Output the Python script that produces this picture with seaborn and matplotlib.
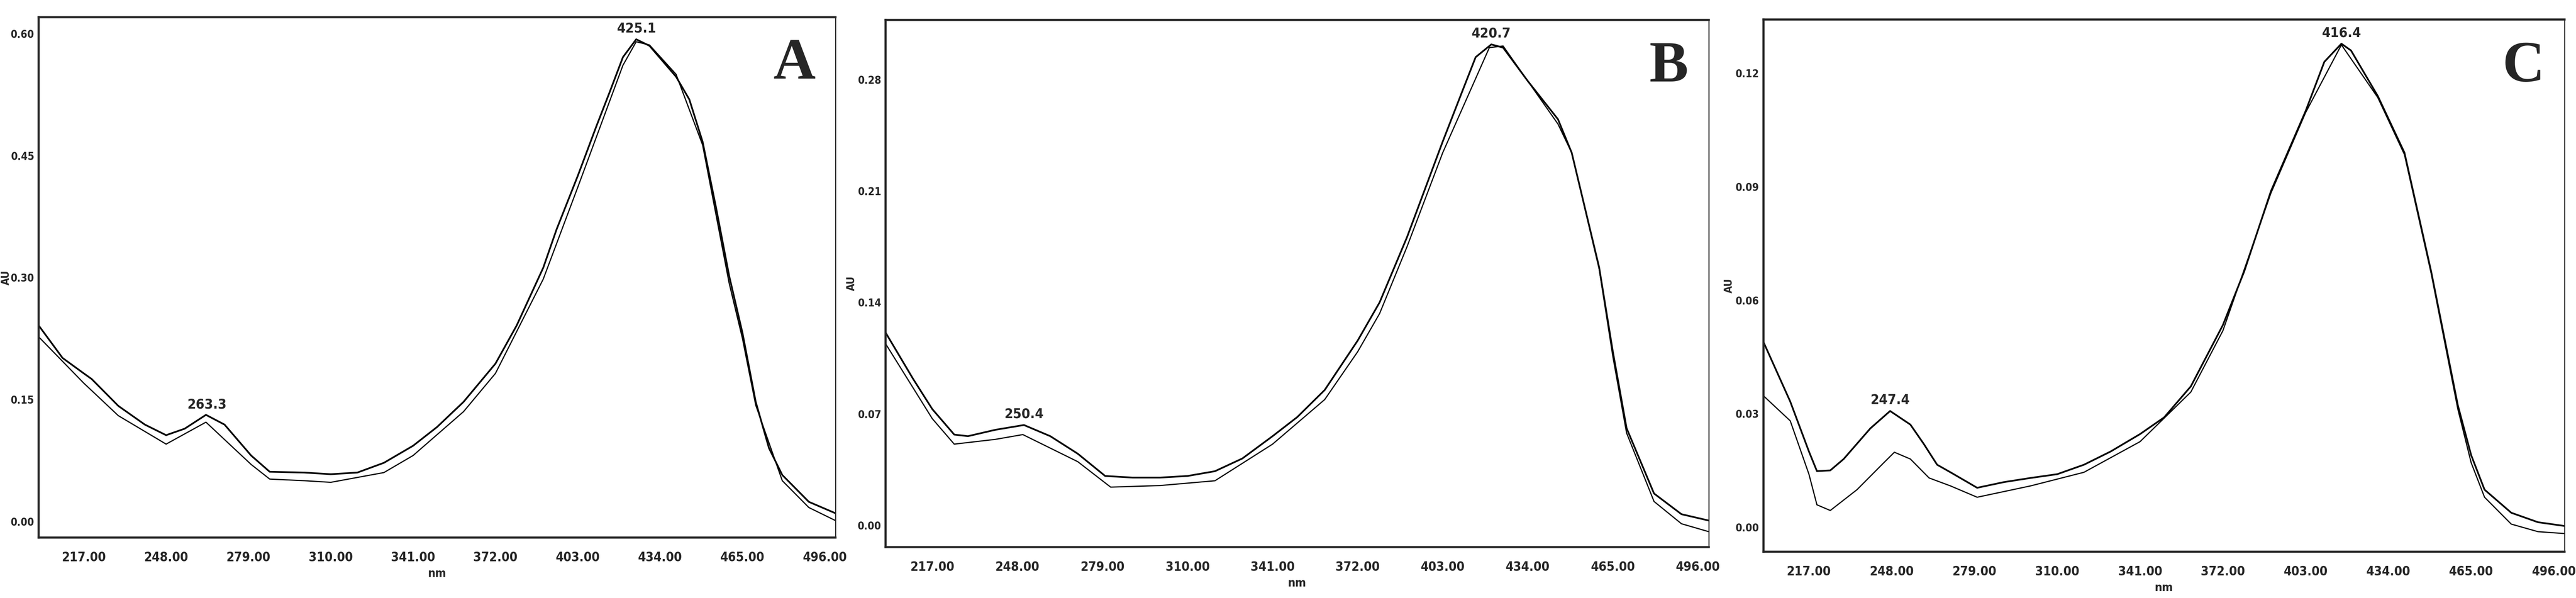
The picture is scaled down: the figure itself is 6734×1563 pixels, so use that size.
import numpy as np
import pandas as pd
import seaborn as sns
import matplotlib.pyplot as plt
from matplotlib.ticker import AutoMinorLocator

sns.set_style("white")
plt.rcParams['font.family'] = ['DejaVu Sans']
plt.rcParams['font.stretch'] = 'condensed'

# Panel A
a_up_x = [200, 209, 217, 220, 230, 240, 248, 255, 263, 270, 280, 287, 300, 310, 320, 330, 341, 350, 360, 372, 380, 390, 395, 403, 410, 415, 420, 425, 430, 435, 440, 445, 450, 455, 460, 465, 470, 475, 480, 490, 500]
a_up_y = [0.241, 0.201, 0.182, 0.175, 0.142, 0.119, 0.106, 0.114, 0.131, 0.119, 0.081, 0.061, 0.060, 0.058, 0.060, 0.072, 0.093, 0.116, 0.147, 0.194, 0.241, 0.312, 0.359, 0.425, 0.486, 0.528, 0.571, 0.593, 0.585, 0.566, 0.547, 0.519, 0.467, 0.387, 0.302, 0.232, 0.147, 0.090, 0.057, 0.024, 0.010]
a_lo_x = [200, 217, 230, 248, 263, 280, 287, 300, 310, 330, 341, 360, 372, 390, 403, 420, 425, 430, 440, 450, 460, 465, 470, 480, 490, 500]
a_lo_y = [0.227, 0.170, 0.130, 0.095, 0.122, 0.070, 0.052, 0.050, 0.048, 0.060, 0.081, 0.135, 0.182, 0.298, 0.411, 0.561, 0.590, 0.586, 0.550, 0.463, 0.293, 0.225, 0.143, 0.050, 0.017, 0.001]

# Panel B
b_up_x = [200, 210, 217, 225, 230, 240, 250.4, 260, 270, 280, 290, 300, 310, 320, 330, 341, 350, 360, 372, 380, 390, 403, 410, 415, 420.7, 425, 434, 445, 450, 460, 465, 470, 480, 490, 500]
b_up_y = [0.121, 0.092, 0.073, 0.057, 0.056, 0.060, 0.063, 0.056, 0.045, 0.031, 0.030, 0.030, 0.031, 0.034, 0.042, 0.056, 0.068, 0.085, 0.116, 0.140, 0.181, 0.241, 0.272, 0.294, 0.302, 0.300, 0.279, 0.255, 0.234, 0.162, 0.109, 0.061, 0.020, 0.007, 0.003]
b_lo_x = [200, 217, 225, 240, 250, 270, 282, 300, 320, 341, 360, 372, 380, 390, 403, 420, 425, 434, 445, 450, 460, 465, 470, 480, 490, 500]
b_lo_y = [0.114, 0.067, 0.051, 0.054, 0.057, 0.040, 0.024, 0.025, 0.028, 0.051, 0.079, 0.109, 0.133, 0.175, 0.234, 0.300, 0.301, 0.279, 0.252, 0.234, 0.161, 0.106, 0.058, 0.015, 0.001, -0.004]

# Panel C
c_up_x = [200, 210, 217, 220, 225, 230, 240, 247.4, 255, 260, 265, 270, 280, 290, 300, 310, 320, 330, 341, 350, 360, 372, 380, 390, 403, 410, 416.4, 420, 430, 440, 450, 460, 465, 470, 480, 490, 500]
c_up_y = [0.0489, 0.0332, 0.020, 0.0148, 0.015, 0.018, 0.0261, 0.0307, 0.0271, 0.022, 0.0165, 0.0145, 0.0104, 0.0119, 0.013, 0.014, 0.0165, 0.020, 0.0246, 0.029, 0.0372, 0.0534, 0.0676, 0.0888, 0.110, 0.123, 0.1278, 0.126, 0.114, 0.099, 0.0676, 0.0322, 0.019, 0.0099, 0.0038, 0.0013, 0.0003]
c_lo_x = [200, 210, 217, 220, 225, 235, 245, 249, 255, 262, 270, 280, 300, 320, 341, 360, 372, 390, 403, 416.4, 430, 440, 450, 460, 465, 470, 480, 490, 500]
c_lo_y = [0.0347, 0.0281, 0.014, 0.0059, 0.0044, 0.0099, 0.017, 0.0198, 0.018, 0.013, 0.0109, 0.0079, 0.0109, 0.0145, 0.0226, 0.0357, 0.0519, 0.0883, 0.1096, 0.1275, 0.1136, 0.0985, 0.0671, 0.0312, 0.017, 0.0079, 0.0008, -0.0012, -0.0017]

peaks_a = [263.3, 425.1]
peaks_b = [250.4, 420.7]
peaks_c = [247.4, 416.4]
letters = ["A", "B", "C"]
x_ticks = [217, 248, 279, 310, 341, 372, 403, 434, 465, 496]

panels = [
    (a_up_x, a_up_y, a_lo_x, a_lo_y, peaks_a, [0.0, 0.15, 0.30, 0.45, 0.60], (-0.020, 0.620), [0.0150, 0.101, 0.3093, 0.870]),
    (b_up_x, b_up_y, b_lo_x, b_lo_y, peaks_b, [0.0, 0.07, 0.14, 0.21, 0.28], (-0.0137, 0.3175), [0.3438, 0.085, 0.3196, 0.882]),
    (c_up_x, c_up_y, c_lo_x, c_lo_y, peaks_c, [0.0, 0.03, 0.06, 0.09, 0.12], (-0.0065, 0.1342), [0.6846, 0.0774, 0.311, 0.890]),
]

fig = plt.figure(figsize=(67.34, 15.63), dpi=100)
for i, ((ux, uy, lx, ly, peaks, yt, ylim, pos), letter) in enumerate(zip(panels, letters)):
    ax = fig.add_axes(pos)
    up = pd.DataFrame({"nm": ux, "AU": uy})
    lo = pd.DataFrame({"nm": lx, "AU": ly})
    sns.lineplot(data=up, x="nm", y="AU", ax=ax, color="black", lw=3.2)
    sns.lineplot(data=lo, x="nm", y="AU", ax=ax, color="black", lw=2.2)
    ax.set_xlim(200, 500)
    ax.set_ylim(*ylim)
    ax.set_xticks(x_ticks)
    ax.set_xticklabels([f"{t:.2f}" for t in x_ticks], fontsize=24, fontweight="bold")
    ax.set_yticks(yt)
    ax.set_yticklabels([f"{t:.2f}" for t in yt], fontsize=20, fontweight="bold")
    ax.xaxis.set_minor_locator(AutoMinorLocator(5))
    ax.yaxis.set_minor_locator(AutoMinorLocator(10))
    ax.tick_params(which="major", direction="out", length=12, width=2, pad=14)
    ax.tick_params(which="minor", direction="out", length=6, width=1.5)
    ax.tick_params(axis="y", which="both", length=5, pad=3)
    ax.set_xlabel("nm", fontsize=22, fontweight="bold", labelpad=8)
    ax.set_ylabel("AU", fontsize=20, fontweight="bold", labelpad=2)
    if i == 0:
        ax.yaxis.set_label_coords(-0.034, 0.5)
    for side in ["left", "bottom", "top"]:
        ax.spines[side].set_linewidth(4)
    ax.spines["right"].set_linewidth(2)
    for p in peaks:
        yv = np.interp(p, ux, uy)
        ax.annotate(f"{p:.1f}", (p, yv), xytext=(0, 8), textcoords="offset points",
                    ha="center", va="bottom", fontsize=26, fontweight="bold")
    ax.text(0.975, 0.96, letter, transform=ax.transAxes, ha="right", va="top",
            fontsize=110, fontweight="bold", family="Liberation Serif", fontstretch="normal")

fig.savefig("out.png", dpi=100)
